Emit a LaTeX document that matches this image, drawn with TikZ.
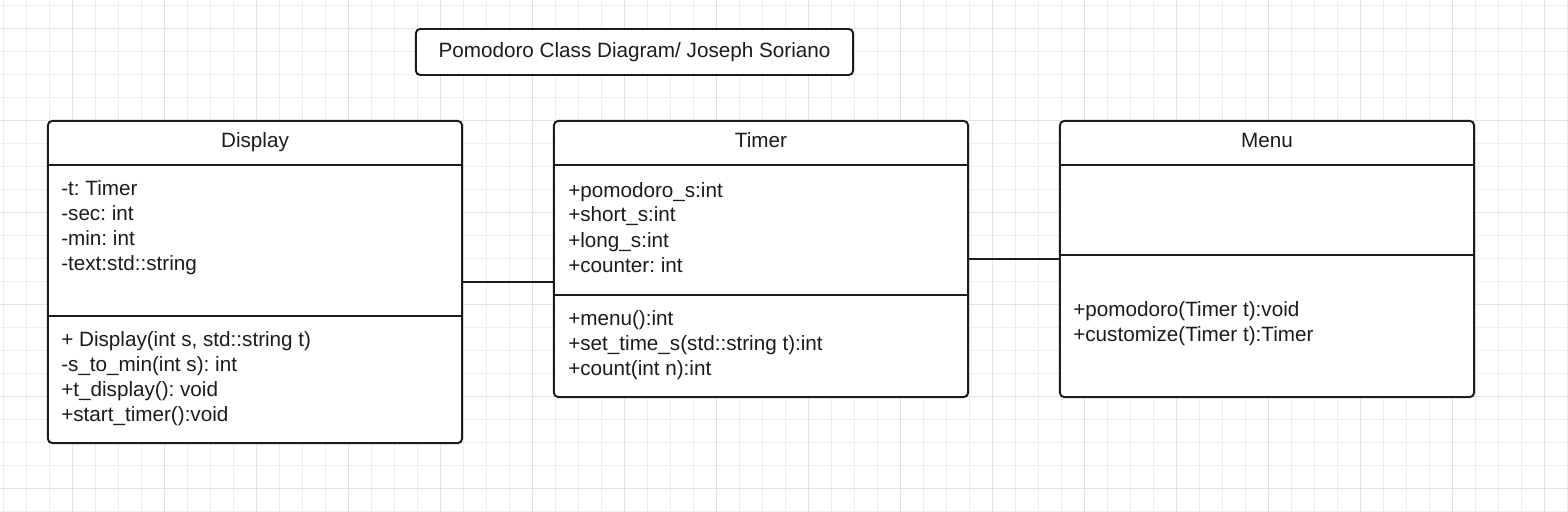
\documentclass[tikz,border=0pt]{standalone}
\usepackage{fontspec}
\setmainfont{Liberation Sans}
\frenchspacing

\definecolor{gridminor}{HTML}{EEEEEE}
\definecolor{gridmajor}{HTML}{E3E3E3}
\definecolor{ink}{HTML}{1C1C1C}

\tikzset{
  classbox/.style={draw=ink, line width=1.4pt, rounded corners=3pt, fill=white, inner sep=0pt, outer sep=0pt},
  classline/.style={draw=ink, line width=1.4pt},
  link/.style={draw=ink, line width=1.5pt},
  classname/.style={anchor=base, inner sep=0pt, text=ink, font=\fontsize{14.7}{17.8}\selectfont},
  member/.style={anchor=base west, inner sep=0pt, text=ink, font=\fontsize{14.7}{17.8}\selectfont},
}

\begin{document}
\begin{tikzpicture}[x=0.025cm, y=-0.025cm]
  \useasboundingbox (0,0) rectangle (1568,512);
  \fill[white] (0,0) rectangle (1568,512);
  % background grid
  \foreach \gx in {0,...,68}
    \draw[gridminor, line width=0.6pt] ({3.7+23*\gx},0) -- ({3.7+23*\gx},512);
  \foreach \gy in {0,...,22}
    \draw[gridminor, line width=0.6pt] (0,{5.7+23*\gy}) -- (1568,{5.7+23*\gy});
  \foreach \gx in {0,...,16}
    \draw[gridmajor, line width=0.7pt] ({72.7+92*\gx},0) -- ({72.7+92*\gx},512);
  \foreach \gy in {0,...,5}
    \draw[gridmajor, line width=0.7pt] (0,{28.7+92*\gy}) -- (1568,{28.7+92*\gy});

  % title
  \node[classbox, minimum width=10.925cm, minimum height=1.15cm, text=ink, font=\fontsize{14.7}{17.8}\selectfont] (title) at (634.5,52) {Pomodoro Class Diagram/ Joseph Soriano};

  % classes
  \node[classbox, minimum width=10.35cm, minimum height=8.05cm] (display) at (255,282) {};
  \node[classbox, minimum width=10.35cm, minimum height=6.9cm] (timer) at (761,259) {};
  \node[classbox, minimum width=10.35cm, minimum height=6.9cm] (menu) at (1267,259) {};

  \draw[classline] (display.west |- 0,165) -- (display.east |- 0,165);
  \draw[classline] (display.west |- 0,316) -- (display.east |- 0,316);
  \draw[classline] (timer.west |- 0,165) -- (timer.east |- 0,165);
  \draw[classline] (timer.west |- 0,295) -- (timer.east |- 0,295);
  \draw[classline] (menu.west |- 0,165) -- (menu.east |- 0,165);
  \draw[classline] (menu.west |- 0,255) -- (menu.east |- 0,255);

  \node[classname] (displayname) at (255,148) {Display};
  \node[classname] (timername) at (761,148) {Timer};
  \node[classname] (menuname) at (1267,148) {Menu};

  % Display members
  \node[member] (dattr1) at (61,195.5) {-t: Timer};
  \node[member] (dattr2) at (61,220.5) {-sec: int};
  \node[member] (dattr3) at (61,245.5) {-min: int};
  \node[member] (dattr4) at (61,270.5) {-text:std::string};
  \node[member] (dmeth1) at (61,346) {+ Display(int s, std::string t)};
  \node[member] (dmeth2) at (61,371) {-s\_to\_min(int s): int};
  \node[member] (dmeth3) at (61,396) {+t\_display(): void};
  \node[member] (dmeth4) at (61,421) {+start\_timer():void};

  % Timer members
  \node[member] (tattr1) at (568,197) {+pomodoro\_s:int};
  \node[member] (tattr2) at (568,222) {+short\_s:int};
  \node[member] (tattr3) at (568,247) {+long\_s:int};
  \node[member] (tattr4) at (568,272) {+counter: int};
  \node[member] (tmeth1) at (568,325) {+menu():int};
  \node[member] (tmeth2) at (568,350) {+set\_time\_s(std::string t):int};
  \node[member] (tmeth3) at (568,375) {+count(int n):int};

  % Menu members
  \node[member] (mmeth1) at (1073,316.5) {+pomodoro(Timer t):void};
  \node[member] (mmeth2) at (1073,341.5) {+customize(Timer t):Timer};

  % associations
  \draw[link] (display.east) -- (display.east -| timer.west);
  \draw[link] (timer.east) -- (menu.west);
\end{tikzpicture}
\end{document}
